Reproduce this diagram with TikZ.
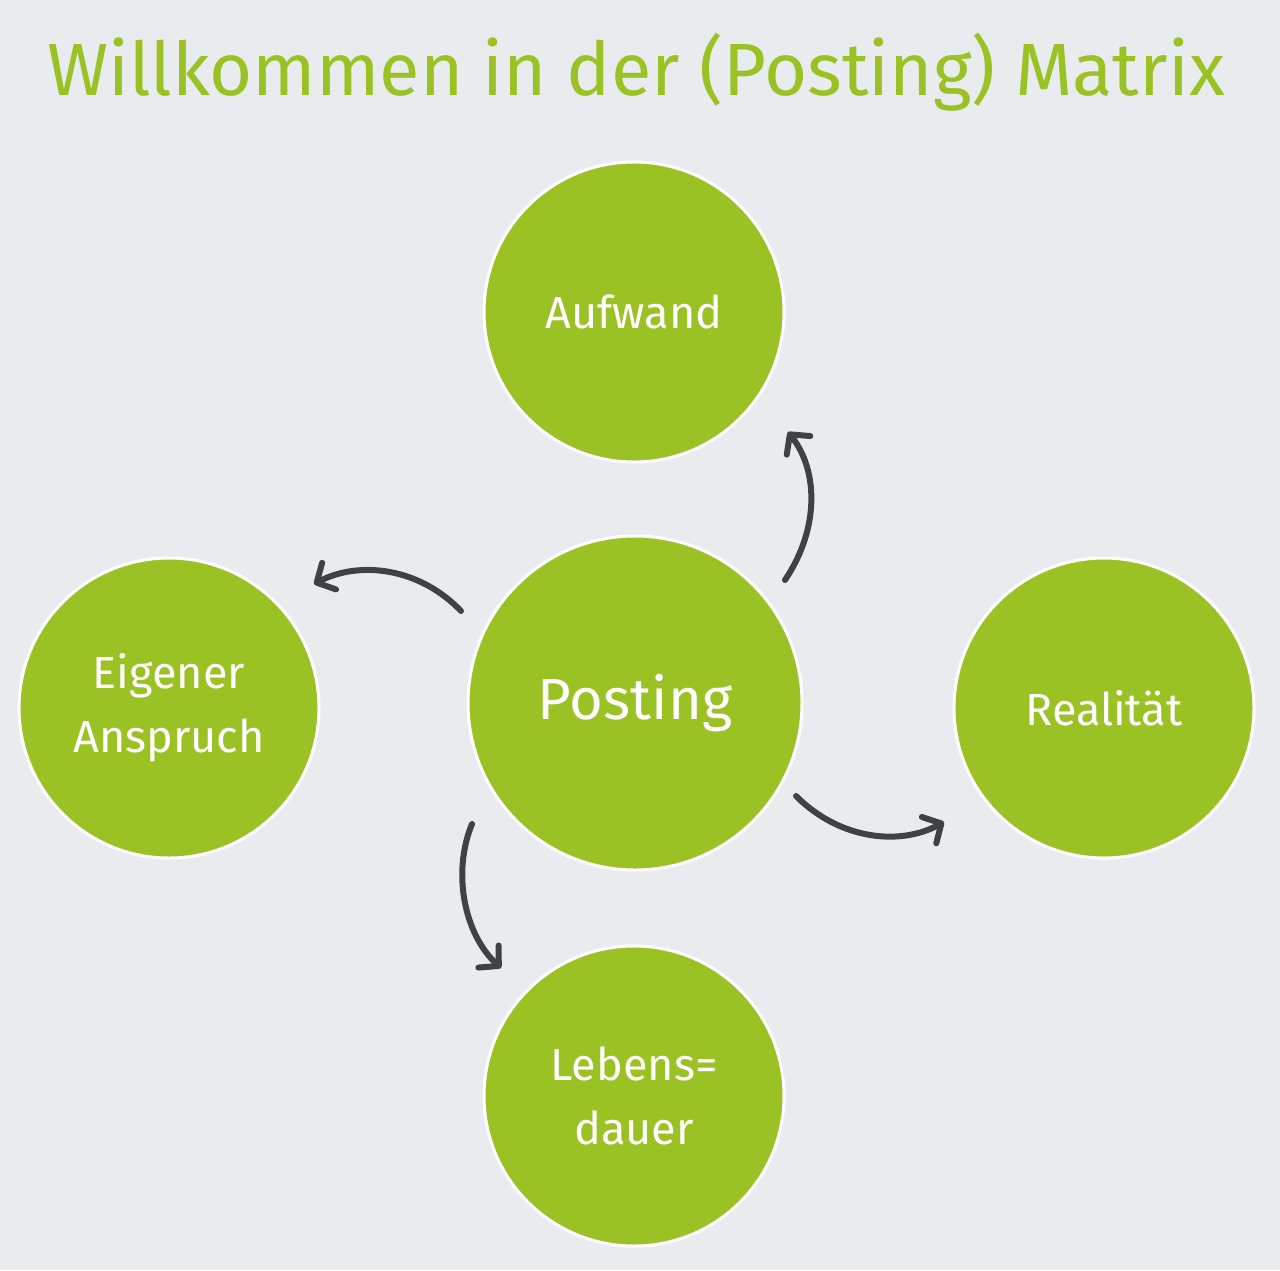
\documentclass[tikz,border=0pt]{standalone}
\usepackage{fontspec}
\setmainfont{Fira Sans}
\usetikzlibrary{arrows.meta}
\definecolor{bg}{HTML}{E9ECEE}
\definecolor{lime}{HTML}{9BC225}
\definecolor{arrowgray}{HTML}{3E4246}
\tikzset{
  bubble/.style={circle, fill=lime, draw=white, line width=3pt, inner sep=0pt,
    text=white, align=center, font=\fontsize{45}{64}\selectfont},
  conn/.style={draw=arrowgray, line width=6pt, line cap=round,
    -{Straight Barb[length=14pt,width=30pt,round]}}
}
\begin{document}
\begin{tikzpicture}[x=1pt,y=-1pt]
\fill[bg] (0,0) rectangle (1280,1270);
\useasboundingbox (0,0) rectangle (1280,1270);
\node[text=lime, font=\fontsize{74}{80}\selectfont, anchor=base] (title) at (636,95) {Willkommen in der (Posting) Matrix};
\node[bubble, minimum size=300pt] (A) at (634,312) {Aufwand};
\node[bubble, minimum size=334pt, font=\fontsize{58}{64}\selectfont] (P) at (635,703) {Posting};
\node[bubble, minimum size=300pt] (E) at (169,708) {Eigener\\Anspruch};
\node[bubble, minimum size=300pt] (R) at (1104,708) {Realität};
\node[bubble, minimum size=300pt] (L) at (634,1096) {Lebens=\\dauer};
\coordinate (pu) at (785,580);
\coordinate (au) at (788,432);
\coordinate (pl) at (461,611);
\coordinate (el) at (314,584);
\coordinate (pr) at (796,796);
\coordinate (rr) at (944,822);
\coordinate (pd) at (472,824);
\coordinate (ld) at (501,968);
\draw[conn] (pu) .. controls (820,528) and (818,470) .. (au);
\draw[conn] (pl) .. controls (420,568) and (360,560) .. (el);
\draw[conn] (pr) .. controls (840,840) and (900,846) .. (rr);
\draw[conn] (pd) .. controls (452,872) and (464,934) .. (ld);
\end{tikzpicture}
\end{document}
